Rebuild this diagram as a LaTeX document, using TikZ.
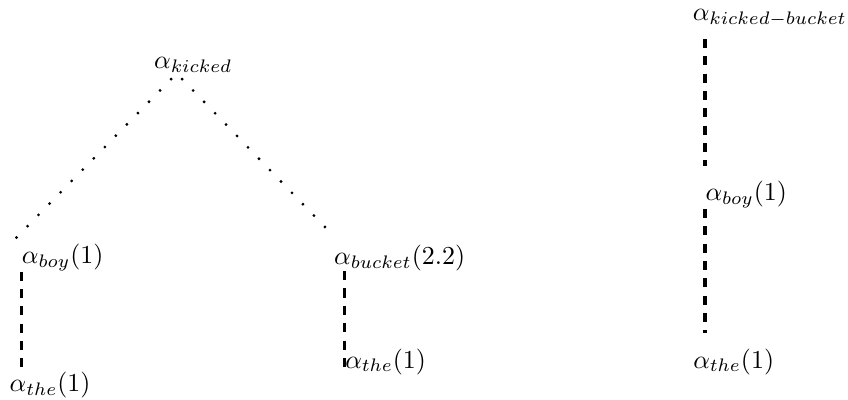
\documentclass[tikz,border=0pt]{standalone}
\usetikzlibrary{calc}

\tikzset{
    tree/.style={inner sep=0pt},
    dotline/.style={line width=1.2pt, line cap=round, dash pattern=on 0pt off 6.1pt},
    dashline/.style={line width=1.3pt, dash pattern=on 3.5pt off 3.2pt}
}

\begin{document}
\begin{tikzpicture}
    \useasboundingbox (0,0) rectangle (11.5,5.424);

    % derivation tree
    \node[tree] (kicked) at (2.62,4.54) {\(\alpha_{kicked}\)};
    \node[tree] (boyL) at (0.85,1.93) {\(\alpha_{boy}(1)\)};
    \node[tree] (theL) at (0.68,0.20) {\(\alpha_{the}(1)\)};
    \node[tree] (bucket) at (5.42,1.93) {\(\alpha_{bucket}(2.2)\)};
    \node[tree] (theM) at (5.23,0.52) {\(\alpha_{the}(1)\)};

    \draw[dotline] ($(kicked.south)+(-0.30,-0.08)$) -- ($(boyL.north west)+(-0.11,0.04)$);
    \draw[dotline] ($(kicked.south)+(-0.15,-0.08)$) -- ($(bucket.north west)+(0,0.11)$);
    \draw[dashline] (boyL.south west) -- (boyL.south west |- theL.north);
    \draw[dashline] (theM.west |- bucket.south) -- ($(theM.west)+(0,-0.08)$);

    % the idiom as one tree
    \node[tree] (kb) at (10.44,5.18) {\(\alpha_{kicked-bucket}\)};
    \node[tree] (boyR) at (10.12,2.78) {\(\alpha_{boy}(1)\)};
    \node[tree] (theR) at (9.95,0.52) {\(\alpha_{the}(1)\)};

    \draw[dashline] ($(kb.south -| boyR.west)+(0,-0.16)$) -- ($(boyR.north west)+(0,0.2)$);
    \draw[dashline] (boyR.south west) -- ($(theR.north -| boyR.west)+(0,0.2)$);
\end{tikzpicture}
\end{document}
